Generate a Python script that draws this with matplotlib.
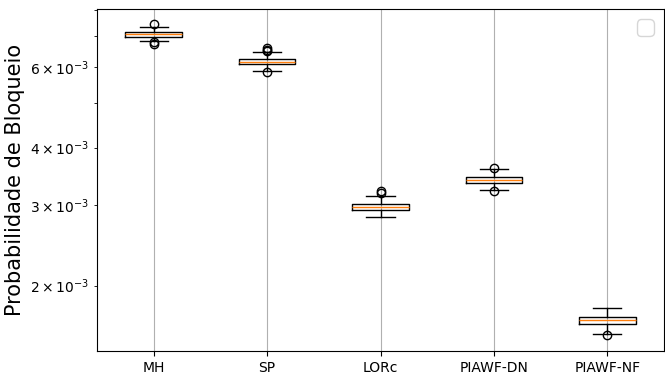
import matplotlib
matplotlib.use("Agg")
import matplotlib.pyplot as plt

labels = ["MH", "SP", "LORc", "PIAWF-DN", "PIAWF-NF"]
medians = [7.07e-3, 6.16e-3, 2.97e-3, 3.40e-3, 1.68e-3]
q1 = [6.99e-3, 6.09e-3, 2.93e-3, 3.35e-3, 1.65e-3]
q3 = [7.15e-3, 6.24e-3, 3.02e-3, 3.46e-3, 1.71e-3]
whislo = [6.85e-3, 5.88e-3, 2.83e-3, 3.23e-3, 1.57e-3]
whishi = [7.35e-3, 6.47e-3, 3.14e-3, 3.59e-3, 1.79e-3]
fliers = [
    [7.45e-3, 6.81e-3, 6.73e-3],
    [6.61e-3, 6.54e-3, 6.50e-3, 5.85e-3],
    [3.21e-3, 3.18e-3],
    [3.62e-3, 3.22e-3],
    [1.56e-3],
]

stats = []
for i, lab in enumerate(labels):
    stats.append(dict(label=lab, med=medians[i], q1=q1[i], q3=q3[i],
                      whislo=whislo[i], whishi=whishi[i], fliers=fliers[i]))

fig = plt.figure(figsize=(6.65, 3.74), dpi=100)
ax = fig.add_axes([97/665, 23/374, (664-97)/665, (351-9)/374])
ax.bxp(stats, showfliers=True)
ax.set_yscale("log")
ax.set_ylim(1.44e-3, 8.03e-3)
ax.set_xlim(0.5, 5.5)
ax.grid(True, axis="x")
ax.set_ylabel("Probabilidade de Bloqueio", fontsize=15)
ax.legend(fontsize=15)
fig.savefig("out.png", dpi=100)
